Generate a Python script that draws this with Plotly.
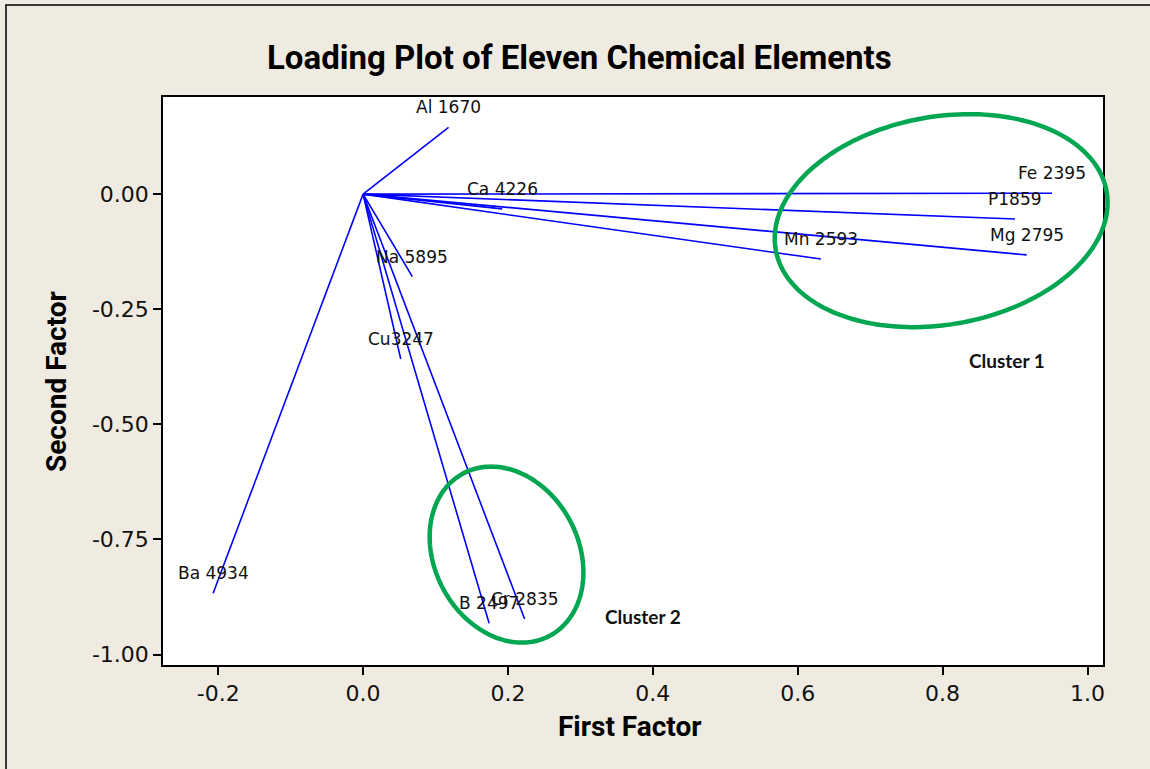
import numpy as np
import plotly.graph_objects as go

# ---------------- data ----------------
elements = ["Al 1670", "Ca 4226", "Na 5895", "Cu3247", "Fe 2395", "P1859",
            "Mg 2795", "Mn 2593", "Ba 4934", "B 2497", "Cr 2835"]
first_factor = [0.118, 0.192, 0.068, 0.052, 0.951, 0.900, 0.916, 0.632, -0.207, 0.174, 0.223]
second_factor = [0.145, -0.032, -0.179, -0.358, 0.002, -0.054, -0.132, -0.141, -0.867, -0.932, -0.923]

cluster_names = ["Cluster 1", "Cluster 2"]
cluster_label_x = [0.889, 0.387]
cluster_label_y = [-0.362, -0.918]

x_ticks = [-0.2, 0.0, 0.2, 0.4, 0.6, 0.8, 1.0]
x_tick_text = ["-0.2", "0.0", "0.2", "0.4", "0.6", "0.8", "1.0"]
y_ticks = [0.0, -0.25, -0.5, -0.75, -1.0]
y_tick_text = ["0.00", "-0.25", "-0.50", "-0.75", "-1.00"]

# ---------------- layout geometry ----------------
W, H = 1150, 769
ML, MR, MT, MB = 163, 47, 97, 104
PW, PH = W - ML - MR, H - MT - MB
XR = [-0.2762, 1.0214]
YR = [-1.0228, 0.2110]
ppx = PW / (XR[1] - XR[0])
ppy = PH / (YR[1] - YR[0])

# ellipse outlines (center in data units, semi-axes in pixels, tilt in degrees)
ellipses = [
    dict(cx=0.798, cy=-0.0576, a=168, b=104, ang=-10),
    dict(cx=0.198, cy=-0.783, a=92, b=72, ang=62),
]

fig = go.Figure()

# loading vectors
lx, ly = [], []
for xv, yv in zip(first_factor, second_factor):
    lx += [0, xv, None]
    ly += [0, yv, None]
fig.add_trace(go.Scatter(x=lx, y=ly, mode="lines",
                         line=dict(color="#0000FF", width=1.6),
                         hoverinfo="skip", showlegend=False))

annotations = []
for name, xv, yv in zip(elements, first_factor, second_factor):
    annotations.append(dict(x=xv, y=yv, xref="x", yref="y", text=name,
                            showarrow=False, xanchor="center", yanchor="middle",
                            yshift=20,
                            font=dict(family="DejaVu Sans", size=17, color="#111111")))

for name, xv, yv in zip(cluster_names, cluster_label_x, cluster_label_y):
    annotations.append(dict(x=xv, y=yv, xref="x", yref="y", text="<b>%s</b>" % name,
                            showarrow=False, xanchor="center", yanchor="middle",
                            font=dict(family="Lato", size=19, color="#111111")))

# title & axis titles
annotations.append(dict(x=(579 - ML) / PW, y=(PH + MT - 58) / PH, xref="paper", yref="paper",
                        text="<b>Loading Plot of Eleven Chemical Elements</b>",
                        showarrow=False, xanchor="center", yanchor="middle",
                        font=dict(family="Roboto", size=33, color="#000000")))
annotations.append(dict(x=(630 - ML) / PW, y=(PH + MT - 726) / PH, xref="paper", yref="paper",
                        text="<b>First Factor</b>", showarrow=False,
                        xanchor="center", yanchor="middle",
                        font=dict(family="Roboto", size=28, color="#000000")))
annotations.append(dict(x=(56 - ML) / PW, y=(PH + MT - 382) / PH, xref="paper", yref="paper",
                        text="<b>Second Factor</b>", showarrow=False, textangle=-90,
                        xanchor="center", yanchor="middle",
                        font=dict(family="Roboto", size=28, color="#000000")))

shapes = []
t = np.linspace(0, 2 * np.pi, 200)
for e in ellipses:
    th = np.radians(e["ang"])
    dx = e["a"] * np.cos(th) * np.cos(t) - e["b"] * np.sin(th) * np.sin(t)
    dy = e["a"] * np.sin(th) * np.cos(t) + e["b"] * np.cos(th) * np.sin(t)  # screen (down)
    xd = e["cx"] + dx / ppx
    yd = e["cy"] - dy / ppy
    xp = (xd - XR[0]) / (XR[1] - XR[0])
    yp = (yd - YR[0]) / (YR[1] - YR[0])
    path = "M " + " L ".join("%.5f,%.5f" % (a, b) for a, b in zip(xp, yp)) + " Z"
    shapes.append(dict(type="path", path=path, xref="paper", yref="paper",
                       line=dict(color="#00A651", width=4.5), layer="above"))

# outer frame
shapes.append(dict(type="rect", xref="paper", yref="paper",
                   x0=(6 - ML) / PW, x1=(W + 20 - ML) / PW,
                   y0=(PH + MT - (H + 20)) / PH, y1=(PH + MT - 5) / PH,
                   line=dict(color="#000000", width=1.5), fillcolor="rgba(0,0,0,0)",
                   layer="below"))

axis_common = dict(showline=True, linecolor="#000000", linewidth=1.5, mirror=True,
                   ticks="outside", ticklen=8, tickwidth=1.5, tickcolor="#000000",
                   showgrid=False, zeroline=False,
                   tickfont=dict(family="DejaVu Sans", size=22, color="#111111"))

fig.update_layout(
    width=W, height=H,
    margin=dict(l=ML, r=MR, t=MT, b=MB, pad=0),
    paper_bgcolor="#EFEBE1", plot_bgcolor="#FFFFFF",
    xaxis=dict(range=XR, tickvals=x_ticks, ticktext=x_tick_text, **axis_common),
    yaxis=dict(range=YR, tickvals=y_ticks, ticktext=y_tick_text, **axis_common),
    annotations=annotations, shapes=shapes, showlegend=False,
)

fig.write_html("out.html", config={"displayModeBar": False},
               post_script="document.body.style.margin='0px';document.body.style.overflow='hidden';")
